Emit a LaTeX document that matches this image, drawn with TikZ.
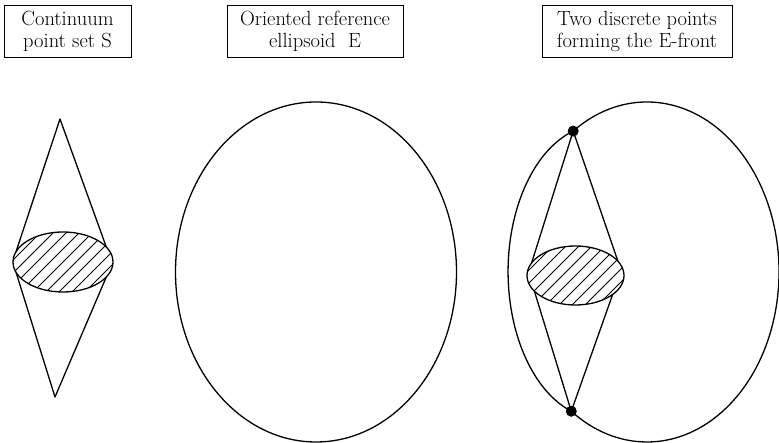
\documentclass[tikz,border=0pt]{standalone}
\usetikzlibrary{calc}
\begin{document}
\begin{tikzpicture}[x=1pt,y=1pt,
  lbl/.style={draw, line width=0.9pt, inner sep=0pt, minimum height=52pt, align=center,
    font=\fontsize{20.5}{22}\selectfont},
  curve/.style={line width=1.3pt, line join=round},
  hatchline/.style={line width=0.9pt},
  dot/.style={circle, fill, inner sep=0pt, minimum size=11pt}]
\useasboundingbox (0,0) rectangle (779,443);

% title boxes
\node[lbl, minimum width=127pt] (box1) at (67.5,411.5) {Continuum\\point set S};
\node[lbl, minimum width=176pt] (box2) at (315,411.5) {Oriented reference\\ellipsoid\ \ E};
\node[lbl, minimum width=190pt] (box3) at (637,411.5) {Two discrete points\\forming the E-front};

% ---- left figure: continuum point set S
\coordinate (c1) at (63,181);
\coordinate (t1) at (60,324);
\coordinate (u1) at (55,46);
\coordinate (l1a) at ($(c1)+(160:50 and 30)$);
\coordinate (r1a) at ($(c1)+(30:50 and 30)$);
\coordinate (l1b) at ($(c1)+(200:50 and 30)$);
\coordinate (r1b) at ($(c1)+(330:50 and 30)$);
\draw[curve] (l1a) -- (t1) -- (r1a);
\draw[curve] (l1b) -- (u1) -- (r1b);
\begin{scope}
  \clip (c1) ellipse [x radius=50, y radius=30];
  \foreach \i in {-104,-91,...,104}
    \draw[hatchline] ($(c1)+(\i-40,-40)$) -- ++(80,80);
\end{scope}
\draw[curve] (c1) ellipse [x radius=50, y radius=30];

% ---- middle figure: reference ellipsoid E
\coordinate (E) at (316,171);
\draw[curve] (E) ellipse [x radius=140.5, y radius=170];

% ---- right figure: E-front
\coordinate (E2) at (647,171);
\coordinate (c2) at (575.5,167.5);
\node[dot] (dtop) at ($(E2)+(124:132 and 170)$) {};
\node[dot] (dbot) at ($(E2)+(235:132 and 170)$) {};
\draw[curve] (dtop.center) arc[start angle=124, end angle=-125, x radius=132, y radius=170];
\draw[curve] (dtop.center) arc[start angle=107, end angle=251, x radius=92, y radius=147];
\coordinate (l2a) at ($(c2)+(155:48.5 and 29.5)$);
\coordinate (r2a) at ($(c2)+(29:48.5 and 29.5)$);
\coordinate (l2b) at ($(c2)+(212:48.5 and 29.5)$);
\coordinate (r2b) at ($(c2)+(320:48.5 and 29.5)$);
\draw[curve] (l2a) -- (dtop.center) -- (r2a);
\draw[curve] (l2b) -- (dbot.center) -- (r2b);
\begin{scope}
  \clip (c2) ellipse [x radius=48.5, y radius=29.5];
  \foreach \i in {-104,-91,...,104}
    \draw[hatchline] ($(c2)+(\i-40,-40)$) -- ++(80,80);
\end{scope}
\draw[curve] (c2) ellipse [x radius=48.5, y radius=29.5];
\end{tikzpicture}
\end{document}
